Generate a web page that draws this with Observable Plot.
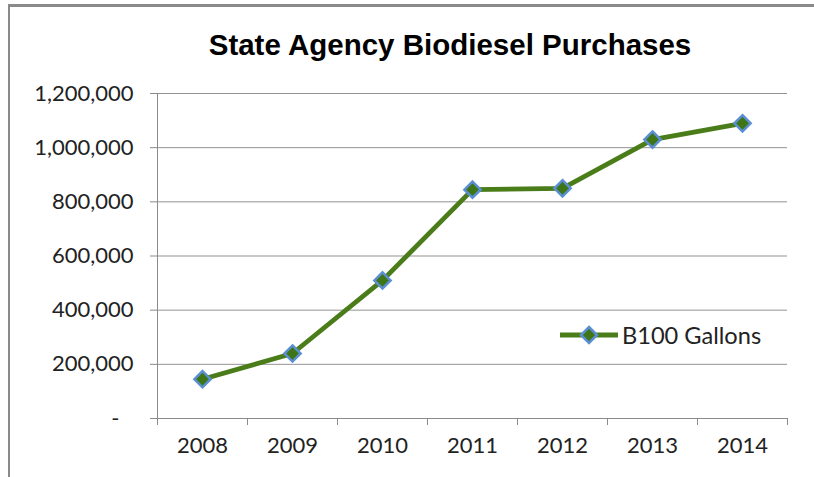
<!DOCTYPE html>
<html>
<head>
<meta charset="utf-8">
<script src="https://cdn.jsdelivr.net/npm/d3@7"></script>
<script src="https://cdn.jsdelivr.net/npm/@observablehq/plot@0.6"></script>
<style>
  body { margin: 0; background: #fff; overflow: hidden; }
  #wrap { position: relative; width: 814px; height: 477px; overflow: hidden; background: #fff; }
  #frame { position: absolute; left: 8px; top: 4px; width: 1000px; height: 1000px;
           border-left: 2px solid #8a8a8a; border-top: 3px solid #8a8a8a; box-sizing: border-box; }
  #title { position: absolute; left: 0; top: 30px; width: 900px; text-align: center;
           font-family: "Liberation Sans", Arial, sans-serif; font-weight: bold; font-size: 29.5px;
           line-height: 30px; color: #000; white-space: nowrap; }
  #chart { position: absolute; left: 0; top: 0; }
  #legend { position: absolute; left: 558px; top: 321px; height: 28px; display: flex; align-items: center;
            font-family: Lato, "Open Sans", sans-serif; font-size: 23.6px; color: #222; white-space: nowrap; }
  #legend svg { display: block; margin-right: 2px; }
</style>
</head>
<body>
<div id="wrap">
  <div id="frame"></div>
  <div id="chart"></div>
  <div id="title">State Agency Biodiesel Purchases</div>
  <div id="legend"></div>
</div>
<script>
// ---- data ----
const years = [2008, 2009, 2010, 2011, 2012, 2013, 2014];
const gallons = [145000, 240000, 510000, 845000, 850000, 1030000, 1090000];
const yTicks = [0, 200000, 400000, 600000, 800000, 1000000, 1200000];
const seriesName = "B100 Gallons";

// ---- styles ----
const lineColor = "#4a7d1a";
const markerFill = "#3e7516";
const markerStroke = "#5b8fd2";
const axisColor = "#8a8a8a";
const gridColor = "#939393";

const data = years.map((year, i) => ({ year, gallons: gallons[i] }));
const bounds = years.map(y => y - 0.5).concat([years[years.length - 1] + 0.5]);
const fmt = d3.format(",");

const chart = Plot.plot({
  width: 814,
  height: 477,
  marginLeft: 157,
  marginRight: 27,
  marginTop: 93,
  marginBottom: 59,
  style: { fontFamily: 'Lato, "Open Sans", sans-serif', fontSize: "22px", color: "#222", background: "transparent" },
  x: { type: "linear", domain: [bounds[0], bounds[bounds.length - 1]], label: null },
  y: { domain: [0, 1200000], label: null },
  marks: [
    Plot.gridY(yTicks, { stroke: gridColor, strokeOpacity: 1, strokeWidth: 1 }),
    Plot.axisY(yTicks, {
      tickSize: 7, tickPadding: 17, stroke: axisColor, strokeOpacity: 1,
      tickFormat: d => d === 0 ? "-\u00a0\u00a0\u2009" : fmt(d)
    }),
    Plot.axisX(bounds, { tickSize: 7, stroke: axisColor, strokeOpacity: 1, tickFormat: () => "" }),
    Plot.axisX(years, { tickSize: 0, tickPadding: 19, tickFormat: d => String(d) }),
    Plot.ruleY([0], { stroke: axisColor, strokeWidth: 1 }),
    Plot.ruleX([bounds[0]], { stroke: axisColor, strokeWidth: 1 }),
    Plot.line(data, { x: "year", y: "gallons", stroke: lineColor, strokeWidth: 4.8, strokeLinejoin: "round" }),
    Plot.dot(data, { x: "year", y: "gallons", symbol: "diamond2", r: 7.3, fill: markerFill, stroke: markerStroke, strokeWidth: 2.5 })
  ]
});
document.getElementById("chart").appendChild(chart);

// legend
const legend = document.getElementById("legend");
legend.innerHTML =
  `<svg width="62" height="24" viewBox="0 0 62 24">
     <line x1="2" y1="12" x2="60" y2="12" stroke="${lineColor}" stroke-width="4.8"/>
     <polygon points="31,4 39,12 31,20 23,12" fill="${markerFill}" stroke="${markerStroke}" stroke-width="2.5"/>
   </svg><span>${seriesName}</span>`;
</script>
</body>
</html>
